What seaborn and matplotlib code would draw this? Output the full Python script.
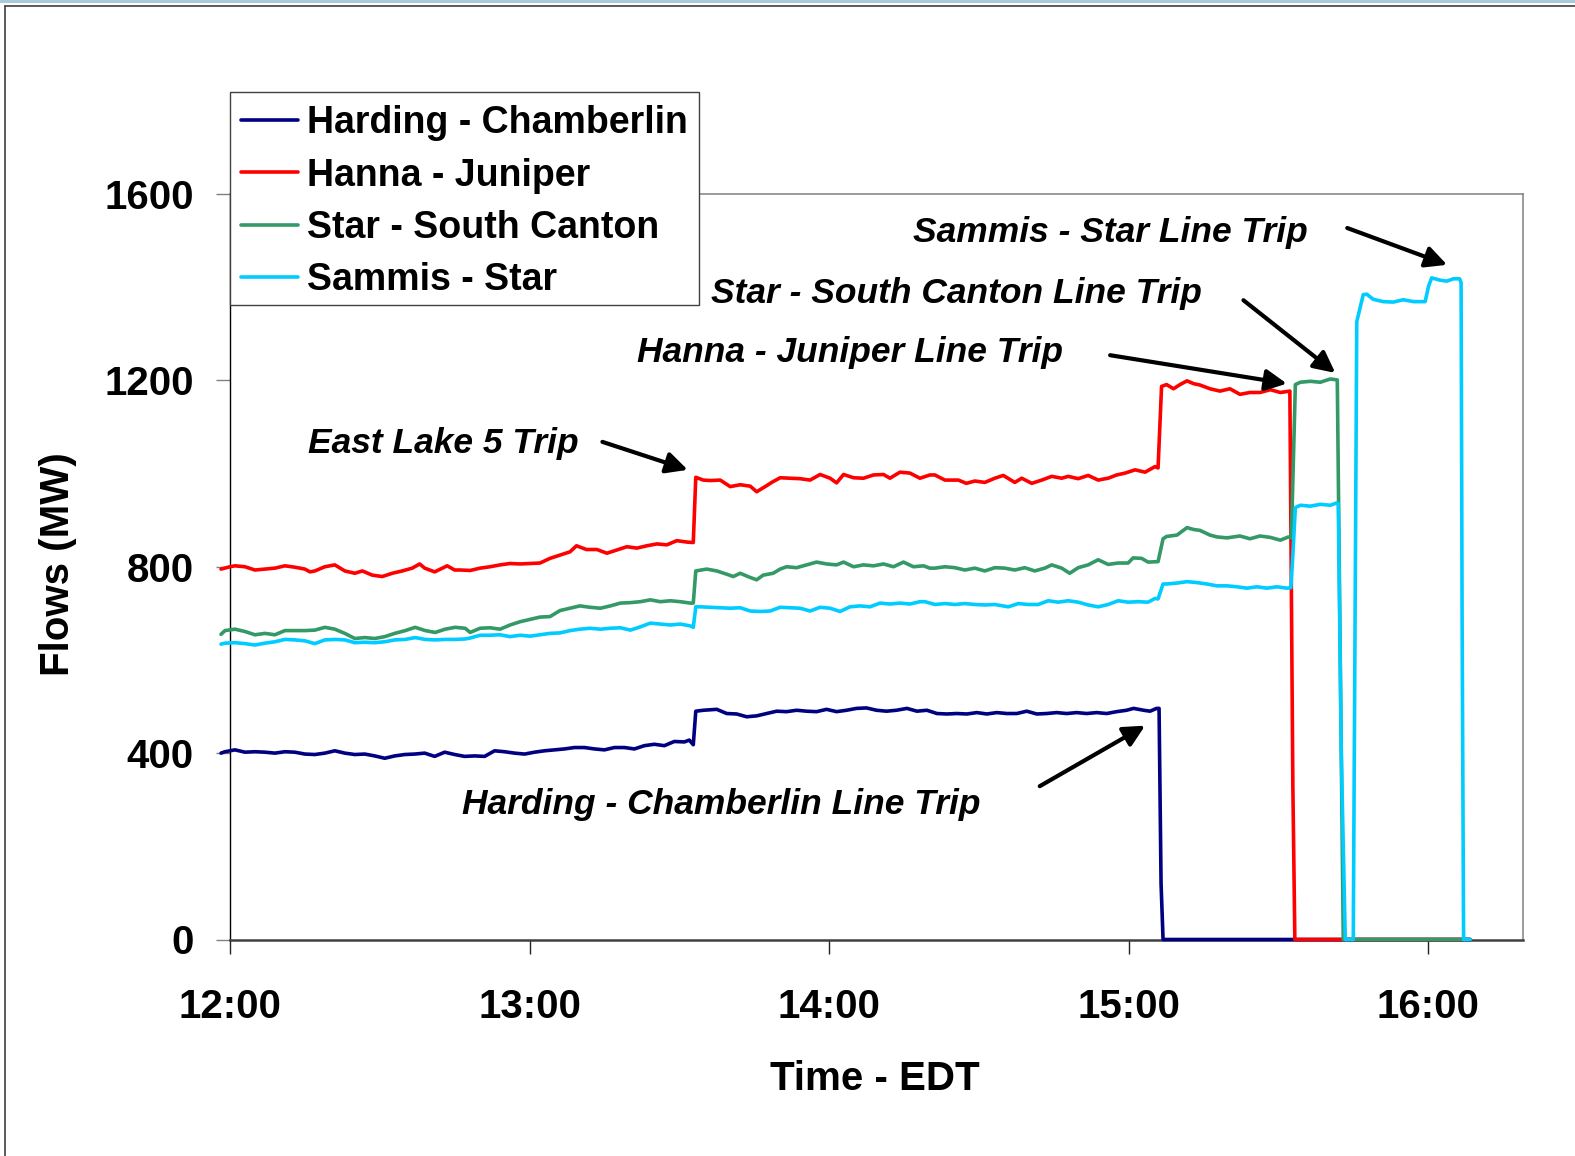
import matplotlib
matplotlib.use("Agg")
import matplotlib.pyplot as plt
import pandas as pd
import seaborn as sns
from matplotlib.lines import Line2D
from matplotlib.patches import Rectangle
from matplotlib.font_manager import FontProperties

# ---------------------------------------------------------------------------
# Line flows, minutes after 12:00 EDT -> MW
# ---------------------------------------------------------------------------
harding_min = [-1.8, -1, 1, 3, 5, 7, 9, 11, 13, 15,
               17, 19, 21, 23, 25, 27, 29, 31, 33, 35,
               37, 39, 41, 43, 45, 47, 49, 51, 53, 55,
               57, 59, 61, 63, 65, 67, 69, 71, 73, 75,
               77, 79, 81, 83, 85, 87, 89, 91, 92, 92.8,
               93.3, 94.8, 97.5, 99.5, 101.5, 103.5, 105.5, 107.5, 109.5, 111.5,
               113.5, 115.5, 117.5, 119.5, 121.5, 123.5, 125.5, 127.5, 129.5, 131.5,
               133.5, 135.6, 137.6, 139.6, 141.6, 143.6, 145.6, 147.6, 149.6, 151.6,
               153.6, 155.6, 157.6, 159.6, 161.6, 163.6, 165.6, 167.6, 169.6, 171.6,
               173.6, 175.6, 177.6, 179.6, 181, 183, 184.3, 185.6, 186.1, 186.5,
               186.9, 248.4]
harding_mw = [400, 403, 407, 402, 403, 402, 400, 403, 402, 398,
              397, 400, 405, 400, 397, 398, 394, 389, 394, 397,
              398, 400, 393, 402, 397, 393, 394, 393, 405, 403,
              400, 398, 402, 405, 407, 409, 412, 412, 409, 407,
              412, 412, 409, 416, 419, 416, 425, 424, 428, 418,
              490, 492, 494, 485, 484, 478, 480, 485, 490, 489,
              492, 490, 489, 494, 489, 492, 496, 497, 492, 490,
              492, 496, 490, 492, 485, 484, 485, 484, 487, 484,
              487, 485, 485, 490, 484, 485, 487, 485, 487, 485,
              487, 485, 489, 492, 496, 492, 490, 496, 496, 120,
              0, 0]

hanna_min = [-1.8, 0, 1, 3, 5, 7, 9, 11, 13, 15,
             16, 17, 19, 21, 23, 25, 26.5, 28.5, 30.5, 32.5,
             34.5, 36.5, 38, 39, 41, 43.5, 45, 46.1, 48.1, 50.1,
             52.1, 54.1, 56.1, 58.1, 60.1, 62.1, 64.1, 66.1, 68.1, 69.4,
             71.4, 73.5, 75.5, 77.5, 79.5, 81.5, 83.5, 85.5, 87.5, 89.5,
             91.5, 92.8, 93.3, 94.8, 96.2, 98.2, 100.2, 102.2, 104.2, 105.5,
             107.5, 108.5, 110.2, 112.2, 114.2, 116.2, 118.2, 120.2, 121.5, 122.9,
             124.9, 126.9, 128.9, 130.9, 132.2, 134.2, 136.2, 138.2, 140.2, 141.2,
             143.2, 145.9, 147.5, 149.2, 151.2, 153.2, 154.9, 157.2, 158.6, 160.6,
             162.6, 164.6, 166.6, 167.9, 169.9, 171.9, 173.9, 175.9, 177.6, 179.3,
             181.3, 183.3, 185.3, 185.9, 186.6, 187.6, 189, 190.3, 191.7, 193,
             194.3, 196.3, 198.3, 200.3, 202.3, 204.3, 206.3, 208.4, 210.4, 212.3,
             212.9, 213.3, 248.4]
hanna_mw = [795, 800, 802, 800, 793, 795, 797, 802, 799, 795,
            789, 791, 800, 804, 791, 786, 791, 782, 779, 786,
            791, 797, 806, 797, 789, 802, 793, 793, 792, 797,
            800, 804, 807, 806, 807, 808, 818, 825, 832, 845,
            837, 837, 829, 836, 843, 840, 845, 849, 847, 856,
            853, 852, 992, 986, 985, 986, 972, 976, 973, 961,
            974, 981, 991, 990, 989, 986, 998, 990, 980, 998,
            991, 990, 997, 998, 990, 1003, 1001, 990, 997, 997,
            986, 986, 979, 984, 981, 990, 996, 981, 990, 979,
            986, 994, 990, 994, 989, 996, 986, 990, 997, 1001,
            1008, 1003, 1015, 1012, 1187, 1191, 1182, 1191, 1199, 1193,
            1190, 1182, 1177, 1182, 1170, 1174, 1174, 1180, 1174, 1177,
            330, 0, 0]

canton_min = [-1.8, -1, 1, 3, 5, 7, 9, 11, 13, 15,
              17, 19, 21, 23, 25, 27, 29, 31, 33, 35.1,
              37.1, 39.1, 41.1, 43.1, 45.1, 47.1, 48.1, 50.1, 52.1, 54.1,
              56.1, 58.1, 60.1, 62.1, 64.1, 66.1, 68.1, 70.1, 72.1, 74.2,
              76.2, 78.2, 80.2, 82.2, 84.2, 86.2, 88.2, 90.2, 92.2, 92.8,
              93.3, 95.5, 97.5, 99.5, 100.8, 102.2, 104.2, 105.5, 106.8, 108.8,
              110.2, 111.5, 113.5, 115.5, 117.5, 119.5, 121.5, 122.9, 124.9, 126.9,
              128.9, 130.9, 132.9, 134.9, 136.9, 138.9, 140.2, 141.2, 143.2, 145.2,
              147.2, 149.2, 151.2, 153.2, 155.2, 157.2, 159.2, 161.2, 163.2, 164.6,
              166.6, 168.2, 169.9, 171.9, 173.9, 175.9, 177.9, 179.9, 180.9, 182.6,
              183.9, 185.9, 186.9, 187.6, 189.7, 191.7, 193, 194.3, 196.3, 197.7,
              199.7, 202.3, 204.3, 206.3, 208.4, 210.4, 212.0, 212.6, 213.4, 214.4,
              216.4, 218.4, 220.4, 221.8, 222.5, 223.0, 248.4]
canton_mw = [655, 663, 666, 661, 654, 657, 654, 663, 663, 663,
             664, 670, 666, 657, 646, 648, 646, 650, 657, 663,
             670, 663, 659, 666, 670, 668, 659, 668, 669, 666,
             675, 682, 687, 692, 693, 706, 711, 716, 713, 711,
             716, 722, 723, 725, 729, 725, 727, 725, 722, 722,
             791, 795, 791, 784, 779, 786, 777, 772, 782, 786,
             795, 800, 798, 804, 810, 806, 804, 810, 800, 804,
             802, 806, 800, 810, 800, 802, 797, 797, 800, 798,
             793, 797, 791, 798, 797, 793, 798, 791, 797, 804,
             797, 786, 798, 804, 815, 805, 808, 808, 819, 818,
             810, 811, 860, 865, 868, 884, 880, 878, 868, 864,
             862, 866, 860, 866, 863, 857, 864, 862, 1191, 1196,
             1198, 1196, 1203, 1201, 500, 0, 0]

sammis_min = [-1.8, -1, 1, 3, 5, 7, 9, 11, 13, 15,
              17, 19, 21, 23, 25, 27, 29, 31, 33, 35.1,
              37.1, 39.1, 41.1, 43.1, 45.1, 47.1, 48.1, 50.1, 52.1, 54.1,
              56.1, 58.1, 60.1, 62.1, 64.1, 66.1, 68.1, 70.1, 72.1, 74.2,
              76.2, 78.2, 80.2, 82.2, 84.2, 86.2, 88.2, 90.2, 92.2, 92.8,
              93.3, 94.2, 96.2, 98.2, 100.2, 102.2, 104.2, 106.2, 108.2, 110.2,
              112.2, 114.2, 116.2, 118.2, 120.2, 122.2, 124.2, 126.2, 128.2, 130.2,
              132.2, 134.2, 136.2, 138.2, 139.2, 141.2, 143.2, 145.2, 147.2, 149.2,
              151.2, 153.2, 155.9, 157.9, 159.9, 161.9, 163.9, 165.9, 167.9, 169.9,
              171.9, 173.9, 175.9, 177.9, 179.9, 181.9, 183.9, 185.3, 185.9, 186.9,
              187.6, 189.7, 191.7, 193.7, 195.7, 197.7, 199.7, 201.7, 203.7, 205.7,
              207.7, 209.7, 211.7, 212.5, 212.8, 213.4, 214.4, 216.4, 218.4, 220.4,
              221.7, 222.0, 222.6, 223.4, 225.0, 225.4, 225.7, 227.0, 227.7, 229,
              231, 233, 235, 237.1, 239.4, 240.1, 240.7, 242.4, 243.7, 245.1,
              246.3, 246.6, 246.8, 247.1, 248.4]
sammis_mw = [634, 636, 637, 635, 632, 636, 639, 644, 643, 641,
             635, 643, 644, 643, 637, 638, 637, 639, 643, 644,
             648, 644, 643, 644, 644, 645, 647, 653, 653, 654,
             650, 653, 651, 654, 657, 658, 663, 666, 668, 666,
             668, 669, 664, 671, 679, 677, 675, 677, 673, 670,
             714, 714, 713, 712, 711, 712, 705, 704, 705, 713,
             712, 711, 705, 713, 711, 704, 714, 716, 714, 722,
             720, 722, 720, 725, 725, 719, 721, 719, 721, 719,
             718, 719, 714, 721, 719, 719, 727, 724, 727, 724,
             718, 714, 719, 727, 724, 725, 724, 732, 731, 763,
             763, 765, 768, 766, 763, 759, 759, 757, 754, 757,
             754, 757, 754, 755, 807, 927, 932, 930, 934, 932,
             937, 935, 400, 0, 0, 749, 1326, 1384, 1385, 1374,
             1369, 1368, 1373, 1369, 1369, 1403, 1420, 1415, 1413, 1418,
             1418, 1410, 700, 0, 0]

line_names = ["Harding - Chamberlin", "Hanna - Juniper",
              "Star - South Canton", "Sammis - Star"]
line_colors = ["#000080", "#FF0000", "#339966", "#00CCFF"]

hour_ticks = [0, 60, 120, 180, 240]
hour_labels = ["12:00", "13:00", "14:00", "15:00", "16:00"]
mw_ticks = [0, 400, 800, 1200, 1600]

# event labels: text, text position, arrow tail, arrow tip (minutes, MW)
events = [
    ("Sammis - Star Line Trip", (176.4, 1517), (223.8, 1527), (243.8, 1448)),
    ("Star - South Canton Line Trip", (145.5, 1386), (203.0, 1372), (221.4, 1216)),
    ("Hanna - Juniper Line Trip", (124.2, 1259), (176.3, 1254), (211.7, 1193)),
    ("East Lake 5 Trip", (42.7, 1065), (74.6, 1068), (91.7, 1008)),
    ("Harding - Chamberlin Line Trip", (98.4, 290), (162.2, 329), (183.3, 459)),
]

# ---------------------------------------------------------------------------
series = [(harding_min, harding_mw), (hanna_min, hanna_mw),
          (canton_min, canton_mw), (sammis_min, sammis_mw)]
frames = []
for name, (t, v) in zip(line_names, series):
    assert len(t) == len(v), name
    frames.append(pd.DataFrame({"minutes": t, "mw": v, "line": name}))
flows = pd.concat(frames, ignore_index=True)

sns.set_style("white")
plt.rcParams["font.family"] = ["Liberation Sans", "DejaVu Sans"]
plt.rcParams["font.weight"] = "bold"
for key in ("text.color", "axes.labelcolor", "xtick.labelcolor", "ytick.labelcolor"):
    plt.rcParams[key] = "black"

W, H = 1575, 1156
fig = plt.figure(figsize=(W / 100, H / 100), dpi=100)
fig.patch.set_facecolor("white")

ax_l, ax_r, ax_t, ax_b = 230, 1523, 194, 939.5
ax = fig.add_axes([ax_l / W, 1 - ax_b / H, (ax_r - ax_l) / W, (ax_b - ax_t) / H])

sns.lineplot(data=flows, x="minutes", y="mw", hue="line", hue_order=line_names,
             palette=dict(zip(line_names, line_colors)), estimator=None,
             sort=False, linewidth=2.6, legend=False, ax=ax)
for ln in ax.lines:
    ln.set_clip_on(False)
    ln.set_zorder(3)
    ln.set_solid_joinstyle("round")

ax.set_xlim(0, 259)
ax.set_ylim(0, 1600)
ax.set_xticks(hour_ticks)
ax.set_xticklabels(hour_labels)
ax.set_yticks(mw_ticks)
ax.set_yticklabels([str(v) for v in mw_ticks])

ax.tick_params(axis="x", direction="out", length=10, width=1.0, color="#222222",
               pad=25, labelsize=29, bottom=True, labelcolor="black")
ax.tick_params(axis="y", direction="out", length=10, width=1.0, color="#808080",
               pad=16, labelsize=29, left=True, labelcolor="black")
for lab in ax.get_xticklabels() + ax.get_yticklabels():
    lab.set_fontweight("bold")

for side in ("top", "right"):
    ax.spines[side].set_color("#808080")
    ax.spines[side].set_linewidth(1.1)
ax.spines["left"].set_color("#000000")
ax.spines["left"].set_linewidth(1.0)
ax.spines["bottom"].set_color("#404040")
ax.spines["bottom"].set_linewidth(1.8)

ax.set_xlabel("Time - EDT", fontsize=29, fontweight="bold", color="black")
ax.set_ylabel("Flows (MW)", fontsize=29, fontweight="bold", color="black")
ax.xaxis.set_label_coords(0.4988, (ax_b - 1060) / (ax_b - ax_t))
ax.yaxis.set_label_coords((77 - ax_l) / (ax_r - ax_l), (ax_b - 564) / (ax_b - ax_t))

for text, pos, tail, tip in events:
    ax.text(pos[0], pos[1], text, ha="center", va="center", fontsize=25.5,
            fontweight="bold", fontstyle="italic", color="black", zorder=5)
    ax.annotate("", xy=tip, xytext=tail,
                arrowprops=dict(arrowstyle="-|>", lw=3.0, color="black",
                                mutation_scale=32, shrinkA=0, shrinkB=0),
                annotation_clip=False, zorder=5)

# legend box sitting over the top-left corner of the plot
fig.patches.append(Rectangle((ax_l / W, 1 - 305 / H), (699 - ax_l) / W, (305 - 92) / H,
                             transform=fig.transFigure, facecolor="white",
                             edgecolor="#404040", linewidth=1.0, zorder=1))
handles = [Line2D([0], [0], color=c, lw=2.6) for c in line_colors]
leg = fig.legend(handles, line_names, loc="upper left", bbox_to_anchor=(241 / W, 1 - 105 / H),
                 frameon=False, borderpad=0, borderaxespad=0, handlelength=1.52,
                 handletextpad=0.24, labelspacing=0.44,
                 prop=FontProperties(family="Liberation Sans", weight="bold", size=27))
for txt in leg.get_texts():
    txt.set_color("black")

# page frame
fig.add_artist(Line2D([4.5 / W, 4.5 / W], [0, 1 - 6 / H], transform=fig.transFigure,
                      color="#404040", lw=1.2))
fig.add_artist(Line2D([4.5 / W, 1], [1 - 6 / H, 1 - 6 / H], transform=fig.transFigure,
                      color="#404040", lw=1.2))
fig.patches.append(Rectangle((0, 1 - 2.5 / H), 1, 2.5 / H, transform=fig.transFigure,
                             facecolor="#a9cbd9", edgecolor="none", zorder=1))

fig.savefig("out.png", dpi=100, facecolor="white")
